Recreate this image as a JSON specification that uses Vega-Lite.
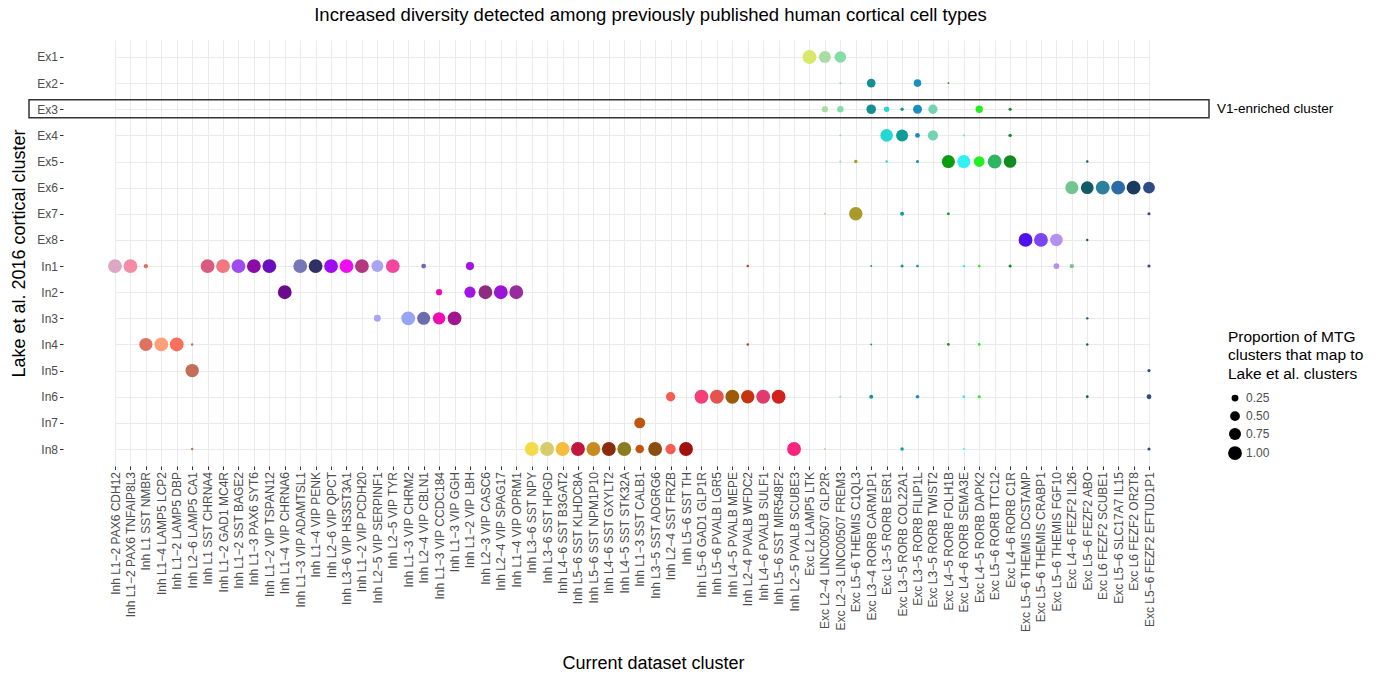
{
  "$schema": "https://vega.github.io/schema/vega-lite/v6.json",
  "width": 1137,
  "height": 426,
  "autosize": {"type": "none"},
  "padding": {"left": 63, "top": 40, "right": 176, "bottom": 208},
  "background": "white",
  "title": {"text": "Increased diversity detected among previously published human cortical cell types", "fontSize": 18.5, "fontWeight": "normal", "color": "black", "anchor": "middle", "offset": 16, "dx": 19},
  "config": {
    "font": "Liberation Sans",
    "view": {"stroke": null},
    "axis": {"domain": false, "grid": true, "gridColor": "#EBEBEB", "gridWidth": 1, "tickColor": "#333333", "tickSize": 3.5, "labelColor": "#4D4D4D", "labelFontSize": 12, "labelPadding": 2, "titleFontSize": 18, "titleFontWeight": "normal", "titleColor": "black"}
  },
  "datasets": {
    "cells": [
      {"mtg": "Inh L1−2 PAX6 CDH12", "lake": "In1", "p": 1},
      {"mtg": "Inh L1−2 PAX6 TNFAIP8L3", "lake": "In1", "p": 1},
      {"mtg": "Inh L1 SST NMBR", "lake": "In1", "p": 0.1},
      {"mtg": "Inh L1 SST NMBR", "lake": "In4", "p": 0.9},
      {"mtg": "Inh L1−4 LAMP5 LCP2", "lake": "In4", "p": 1},
      {"mtg": "Inh L1−2 LAMP5 DBP", "lake": "In4", "p": 1},
      {"mtg": "Inh L2−6 LAMP5 CA1", "lake": "In4", "p": 0.03},
      {"mtg": "Inh L2−6 LAMP5 CA1", "lake": "In5", "p": 0.94},
      {"mtg": "Inh L2−6 LAMP5 CA1", "lake": "In8", "p": 0.03},
      {"mtg": "Inh L1 SST CHRNA4", "lake": "In1", "p": 1},
      {"mtg": "Inh L1−2 GAD1 MC4R", "lake": "In1", "p": 1},
      {"mtg": "Inh L1−2 SST BAGE2", "lake": "In1", "p": 1},
      {"mtg": "Inh L1−3 PAX6 SYT6", "lake": "In1", "p": 1},
      {"mtg": "Inh L1−2 VIP TSPAN12", "lake": "In1", "p": 1},
      {"mtg": "Inh L1−4 VIP CHRNA6", "lake": "In2", "p": 1},
      {"mtg": "Inh L1−3 VIP ADAMTSL1", "lake": "In1", "p": 1},
      {"mtg": "Inh L1−4 VIP PENK", "lake": "In1", "p": 1},
      {"mtg": "Inh L2−6 VIP QPCT", "lake": "In1", "p": 1},
      {"mtg": "Inh L3−6 VIP HS3ST3A1", "lake": "In1", "p": 1},
      {"mtg": "Inh L1−2 VIP PCDH20", "lake": "In1", "p": 1},
      {"mtg": "Inh L2−5 VIP SERPINF1", "lake": "In1", "p": 0.75},
      {"mtg": "Inh L2−5 VIP SERPINF1", "lake": "In3", "p": 0.25},
      {"mtg": "Inh L2−5 VIP TYR", "lake": "In1", "p": 1},
      {"mtg": "Inh L1−3 VIP CHRM2", "lake": "In3", "p": 1},
      {"mtg": "Inh L2−4 VIP CBLN1", "lake": "In1", "p": 0.12},
      {"mtg": "Inh L2−4 VIP CBLN1", "lake": "In3", "p": 0.88},
      {"mtg": "Inh L1−3 VIP CCDC184", "lake": "In2", "p": 0.2},
      {"mtg": "Inh L1−3 VIP CCDC184", "lake": "In3", "p": 0.8},
      {"mtg": "Inh L1−3 VIP GGH", "lake": "In3", "p": 1},
      {"mtg": "Inh L1−2 VIP LBH", "lake": "In1", "p": 0.35},
      {"mtg": "Inh L1−2 VIP LBH", "lake": "In2", "p": 0.65},
      {"mtg": "Inh L2−3 VIP CASC6", "lake": "In2", "p": 1},
      {"mtg": "Inh L2−4 VIP SPAG17", "lake": "In2", "p": 1},
      {"mtg": "Inh L1−4 VIP OPRM1", "lake": "In2", "p": 1},
      {"mtg": "Inh L3−6 SST NPY", "lake": "In8", "p": 1},
      {"mtg": "Inh L3−6 SST HPGD", "lake": "In8", "p": 1},
      {"mtg": "Inh L4−6 SST B3GAT2", "lake": "In8", "p": 1},
      {"mtg": "Inh L5−6 SST KLHDC8A", "lake": "In8", "p": 1},
      {"mtg": "Inh L5−6 SST NPM1P10", "lake": "In8", "p": 1},
      {"mtg": "Inh L4−6 SST GXYLT2", "lake": "In8", "p": 1},
      {"mtg": "Inh L4−5 SST STK32A", "lake": "In8", "p": 1},
      {"mtg": "Inh L1−3 SST CALB1", "lake": "In7", "p": 0.62},
      {"mtg": "Inh L1−3 SST CALB1", "lake": "In8", "p": 0.38},
      {"mtg": "Inh L3−5 SST ADGRG6", "lake": "In8", "p": 1},
      {"mtg": "Inh L2−4 SST FRZB", "lake": "In6", "p": 0.45},
      {"mtg": "Inh L2−4 SST FRZB", "lake": "In8", "p": 0.55},
      {"mtg": "Inh L5−6 SST TH", "lake": "In8", "p": 1},
      {"mtg": "Inh L5−6 GAD1 GLP1R", "lake": "In6", "p": 1},
      {"mtg": "Inh L5−6 PVALB LGR5", "lake": "In6", "p": 1},
      {"mtg": "Inh L4−5 PVALB MEPE", "lake": "In6", "p": 1},
      {"mtg": "Inh L2−4 PVALB WFDC2", "lake": "In1", "p": 0.03},
      {"mtg": "Inh L2−4 PVALB WFDC2", "lake": "In4", "p": 0.03},
      {"mtg": "Inh L2−4 PVALB WFDC2", "lake": "In6", "p": 0.94},
      {"mtg": "Inh L4−6 PVALB SULF1", "lake": "In6", "p": 1},
      {"mtg": "Inh L5−6 SST MIR548F2", "lake": "In6", "p": 1},
      {"mtg": "Inh L2−5 PVALB SCUBE3", "lake": "In8", "p": 1},
      {"mtg": "Exc L2 LAMP5 LTK", "lake": "Ex1", "p": 1},
      {"mtg": "Exc L2−4 LINC00507 GLP2R", "lake": "Ex1", "p": 0.72},
      {"mtg": "Exc L2−4 LINC00507 GLP2R", "lake": "Ex3", "p": 0.2},
      {"mtg": "Exc L2−4 LINC00507 GLP2R", "lake": "Ex7", "p": 0.02},
      {"mtg": "Exc L2−4 LINC00507 GLP2R", "lake": "In8", "p": 0.02},
      {"mtg": "Exc L2−3 LINC00507 FREM3", "lake": "Ex1", "p": 0.7},
      {"mtg": "Exc L2−3 LINC00507 FREM3", "lake": "Ex2", "p": 0.02},
      {"mtg": "Exc L2−3 LINC00507 FREM3", "lake": "Ex3", "p": 0.22},
      {"mtg": "Exc L2−3 LINC00507 FREM3", "lake": "Ex4", "p": 0.02},
      {"mtg": "Exc L2−3 LINC00507 FREM3", "lake": "Ex5", "p": 0.02},
      {"mtg": "Exc L2−3 LINC00507 FREM3", "lake": "In6", "p": 0.02},
      {"mtg": "Exc L5−6 THEMIS C1QL3", "lake": "Ex5", "p": 0.06},
      {"mtg": "Exc L5−6 THEMIS C1QL3", "lake": "Ex7", "p": 0.94},
      {"mtg": "Exc L3−4 RORB CARM1P1", "lake": "Ex2", "p": 0.4},
      {"mtg": "Exc L3−4 RORB CARM1P1", "lake": "Ex3", "p": 0.48},
      {"mtg": "Exc L3−4 RORB CARM1P1", "lake": "In1", "p": 0.02},
      {"mtg": "Exc L3−4 RORB CARM1P1", "lake": "In4", "p": 0.02},
      {"mtg": "Exc L3−4 RORB CARM1P1", "lake": "In6", "p": 0.08},
      {"mtg": "Exc L3−5 RORB ESR1", "lake": "Ex3", "p": 0.15},
      {"mtg": "Exc L3−5 RORB ESR1", "lake": "Ex4", "p": 0.82},
      {"mtg": "Exc L3−5 RORB ESR1", "lake": "Ex5", "p": 0.03},
      {"mtg": "Exc L3−5 RORB COL22A1", "lake": "Ex3", "p": 0.06},
      {"mtg": "Exc L3−5 RORB COL22A1", "lake": "Ex4", "p": 0.75},
      {"mtg": "Exc L3−5 RORB COL22A1", "lake": "Ex7", "p": 0.08},
      {"mtg": "Exc L3−5 RORB COL22A1", "lake": "In1", "p": 0.05},
      {"mtg": "Exc L3−5 RORB COL22A1", "lake": "In8", "p": 0.06},
      {"mtg": "Exc L3−5 RORB FILIP1L", "lake": "Ex2", "p": 0.3},
      {"mtg": "Exc L3−5 RORB FILIP1L", "lake": "Ex3", "p": 0.42},
      {"mtg": "Exc L3−5 RORB FILIP1L", "lake": "Ex4", "p": 0.12},
      {"mtg": "Exc L3−5 RORB FILIP1L", "lake": "Ex5", "p": 0.05},
      {"mtg": "Exc L3−5 RORB FILIP1L", "lake": "In1", "p": 0.04},
      {"mtg": "Exc L3−5 RORB FILIP1L", "lake": "In6", "p": 0.07},
      {"mtg": "Exc L3−5 RORB TWIST2", "lake": "Ex3", "p": 0.45},
      {"mtg": "Exc L3−5 RORB TWIST2", "lake": "Ex4", "p": 0.55},
      {"mtg": "Exc L4−5 RORB FOLH1B", "lake": "Ex2", "p": 0.02},
      {"mtg": "Exc L4−5 RORB FOLH1B", "lake": "Ex5", "p": 0.9},
      {"mtg": "Exc L4−5 RORB FOLH1B", "lake": "Ex7", "p": 0.04},
      {"mtg": "Exc L4−5 RORB FOLH1B", "lake": "In4", "p": 0.04},
      {"mtg": "Exc L4−6 RORB SEMA3E", "lake": "Ex4", "p": 0.02},
      {"mtg": "Exc L4−6 RORB SEMA3E", "lake": "Ex5", "p": 0.9},
      {"mtg": "Exc L4−6 RORB SEMA3E", "lake": "In1", "p": 0.03},
      {"mtg": "Exc L4−6 RORB SEMA3E", "lake": "In6", "p": 0.04},
      {"mtg": "Exc L4−6 RORB SEMA3E", "lake": "In8", "p": 0.02},
      {"mtg": "Exc L4−5 RORB DAPK2", "lake": "Ex3", "p": 0.28},
      {"mtg": "Exc L4−5 RORB DAPK2", "lake": "Ex5", "p": 0.6},
      {"mtg": "Exc L4−5 RORB DAPK2", "lake": "In1", "p": 0.04},
      {"mtg": "Exc L4−5 RORB DAPK2", "lake": "In4", "p": 0.04},
      {"mtg": "Exc L4−5 RORB DAPK2", "lake": "In6", "p": 0.05},
      {"mtg": "Exc L5−6 RORB TTC12", "lake": "Ex5", "p": 1},
      {"mtg": "Exc L4−6 RORB C1R", "lake": "Ex3", "p": 0.05},
      {"mtg": "Exc L4−6 RORB C1R", "lake": "Ex4", "p": 0.06},
      {"mtg": "Exc L4−6 RORB C1R", "lake": "Ex5", "p": 0.83},
      {"mtg": "Exc L4−6 RORB C1R", "lake": "In1", "p": 0.05},
      {"mtg": "Exc L5−6 THEMIS DCSTAMP", "lake": "Ex8", "p": 1},
      {"mtg": "Exc L5−6 THEMIS CRABP1", "lake": "Ex8", "p": 1},
      {"mtg": "Exc L5−6 THEMIS FGF10", "lake": "Ex8", "p": 0.82},
      {"mtg": "Exc L5−6 THEMIS FGF10", "lake": "In1", "p": 0.18},
      {"mtg": "Exc L4−6 FEZF2 IL26", "lake": "Ex6", "p": 0.9},
      {"mtg": "Exc L4−6 FEZF2 IL26", "lake": "In1", "p": 0.1},
      {"mtg": "Exc L5−6 FEZF2 ABO", "lake": "Ex5", "p": 0.03},
      {"mtg": "Exc L5−6 FEZF2 ABO", "lake": "Ex6", "p": 0.85},
      {"mtg": "Exc L5−6 FEZF2 ABO", "lake": "Ex8", "p": 0.03},
      {"mtg": "Exc L5−6 FEZF2 ABO", "lake": "In3", "p": 0.03},
      {"mtg": "Exc L5−6 FEZF2 ABO", "lake": "In4", "p": 0.03},
      {"mtg": "Exc L5−6 FEZF2 ABO", "lake": "In6", "p": 0.04},
      {"mtg": "Exc L6 FEZF2 SCUBE1", "lake": "Ex6", "p": 1},
      {"mtg": "Exc L5−6 SLC17A7 IL15", "lake": "Ex6", "p": 1},
      {"mtg": "Exc L6 FEZF2 OR2T8", "lake": "Ex6", "p": 1},
      {"mtg": "Exc L5−6 FEZF2 EFTUD1P1", "lake": "Ex6", "p": 0.72},
      {"mtg": "Exc L5−6 FEZF2 EFTUD1P1", "lake": "Ex7", "p": 0.05},
      {"mtg": "Exc L5−6 FEZF2 EFTUD1P1", "lake": "In1", "p": 0.05},
      {"mtg": "Exc L5−6 FEZF2 EFTUD1P1", "lake": "In5", "p": 0.05},
      {"mtg": "Exc L5−6 FEZF2 EFTUD1P1", "lake": "In6", "p": 0.12},
      {"mtg": "Exc L5−6 FEZF2 EFTUD1P1", "lake": "In8", "p": 0.05}
    ],
    "box": [{"from": "Inh L1−2 PAX6 CDH12", "to": "Exc L5−6 FEZF2 EFTUD1P1", "row": "Ex3", "label": "V1-enriched cluster"}]
  },
  "layer": [
    {
      "data": {"name": "cells"},
      "mark": {"type": "circle", "opacity": 1},
      "encoding": {
        "x": {"field": "mtg", "type": "nominal", "title": "Current dataset cluster",
          "scale": {"type": "point", "padding": 0, "range": [52, 1086], "domain": ["Inh L1−2 PAX6 CDH12","Inh L1−2 PAX6 TNFAIP8L3","Inh L1 SST NMBR","Inh L1−4 LAMP5 LCP2","Inh L1−2 LAMP5 DBP","Inh L2−6 LAMP5 CA1","Inh L1 SST CHRNA4","Inh L1−2 GAD1 MC4R","Inh L1−2 SST BAGE2","Inh L1−3 PAX6 SYT6","Inh L1−2 VIP TSPAN12","Inh L1−4 VIP CHRNA6","Inh L1−3 VIP ADAMTSL1","Inh L1−4 VIP PENK","Inh L2−6 VIP QPCT","Inh L3−6 VIP HS3ST3A1","Inh L1−2 VIP PCDH20","Inh L2−5 VIP SERPINF1","Inh L2−5 VIP TYR","Inh L1−3 VIP CHRM2","Inh L2−4 VIP CBLN1","Inh L1−3 VIP CCDC184","Inh L1−3 VIP GGH","Inh L1−2 VIP LBH","Inh L2−3 VIP CASC6","Inh L2−4 VIP SPAG17","Inh L1−4 VIP OPRM1","Inh L3−6 SST NPY","Inh L3−6 SST HPGD","Inh L4−6 SST B3GAT2","Inh L5−6 SST KLHDC8A","Inh L5−6 SST NPM1P10","Inh L4−6 SST GXYLT2","Inh L4−5 SST STK32A","Inh L1−3 SST CALB1","Inh L3−5 SST ADGRG6","Inh L2−4 SST FRZB","Inh L5−6 SST TH","Inh L5−6 GAD1 GLP1R","Inh L5−6 PVALB LGR5","Inh L4−5 PVALB MEPE","Inh L2−4 PVALB WFDC2","Inh L4−6 PVALB SULF1","Inh L5−6 SST MIR548F2","Inh L2−5 PVALB SCUBE3","Exc L2 LAMP5 LTK","Exc L2−4 LINC00507 GLP2R","Exc L2−3 LINC00507 FREM3","Exc L5−6 THEMIS C1QL3","Exc L3−4 RORB CARM1P1","Exc L3−5 RORB ESR1","Exc L3−5 RORB COL22A1","Exc L3−5 RORB FILIP1L","Exc L3−5 RORB TWIST2","Exc L4−5 RORB FOLH1B","Exc L4−6 RORB SEMA3E","Exc L4−5 RORB DAPK2","Exc L5−6 RORB TTC12","Exc L4−6 RORB C1R","Exc L5−6 THEMIS DCSTAMP","Exc L5−6 THEMIS CRABP1","Exc L5−6 THEMIS FGF10","Exc L4−6 FEZF2 IL26","Exc L5−6 FEZF2 ABO","Exc L6 FEZF2 SCUBE1","Exc L5−6 SLC17A7 IL15","Exc L6 FEZF2 OR2T8","Exc L5−6 FEZF2 EFTUD1P1"]},
          "axis": {"labelAngle": -90, "labelOverlap": false, "labelLimit": 400, "titlePadding": 23, "titleX": 590}},
        "y": {"field": "lake", "type": "nominal", "title": "Lake et al. 2016 cortical cluster",
          "scale": {"type": "point", "padding": 0.65, "domain": ["Ex1","Ex2","Ex3","Ex4","Ex5","Ex6","Ex7","Ex8","In1","In2","In3","In4","In5","In6","In7","In8"]},
          "axis": {"titlePadding": 8}},
        "size": {"field": "p", "type": "quantitative",
          "scale": {"domain": [0, 1], "range": [0, 192], "zero": true},
          "legend": {"orient": "none", "legendX": 1165, "legendY": 290, "title": ["Proportion of MTG", "clusters that map to", "Lake et al. clusters"], "titleFontSize": 15.5, "titleFontWeight": "normal", "titleColor": "black", "titleLineHeight": 18.3, "titlePadding": 10, "labelFontSize": 12, "labelColor": "#4D4D4D", "labelOffset": 4, "values": [0.25, 0.5, 0.75, 1], "format": ".2f", "symbolType": "circle", "symbolFillColor": "black", "symbolStrokeColor": "black", "symbolStrokeWidth": 0, "symbolOpacity": 1, "rowPadding": 6}},
        "color": {"field": "mtg", "type": "nominal", "legend": null,
          "scale": {"domain": ["Inh L1−2 PAX6 CDH12","Inh L1−2 PAX6 TNFAIP8L3","Inh L1 SST NMBR","Inh L1−4 LAMP5 LCP2","Inh L1−2 LAMP5 DBP","Inh L2−6 LAMP5 CA1","Inh L1 SST CHRNA4","Inh L1−2 GAD1 MC4R","Inh L1−2 SST BAGE2","Inh L1−3 PAX6 SYT6","Inh L1−2 VIP TSPAN12","Inh L1−4 VIP CHRNA6","Inh L1−3 VIP ADAMTSL1","Inh L1−4 VIP PENK","Inh L2−6 VIP QPCT","Inh L3−6 VIP HS3ST3A1","Inh L1−2 VIP PCDH20","Inh L2−5 VIP SERPINF1","Inh L2−5 VIP TYR","Inh L1−3 VIP CHRM2","Inh L2−4 VIP CBLN1","Inh L1−3 VIP CCDC184","Inh L1−3 VIP GGH","Inh L1−2 VIP LBH","Inh L2−3 VIP CASC6","Inh L2−4 VIP SPAG17","Inh L1−4 VIP OPRM1","Inh L3−6 SST NPY","Inh L3−6 SST HPGD","Inh L4−6 SST B3GAT2","Inh L5−6 SST KLHDC8A","Inh L5−6 SST NPM1P10","Inh L4−6 SST GXYLT2","Inh L4−5 SST STK32A","Inh L1−3 SST CALB1","Inh L3−5 SST ADGRG6","Inh L2−4 SST FRZB","Inh L5−6 SST TH","Inh L5−6 GAD1 GLP1R","Inh L5−6 PVALB LGR5","Inh L4−5 PVALB MEPE","Inh L2−4 PVALB WFDC2","Inh L4−6 PVALB SULF1","Inh L5−6 SST MIR548F2","Inh L2−5 PVALB SCUBE3","Exc L2 LAMP5 LTK","Exc L2−4 LINC00507 GLP2R","Exc L2−3 LINC00507 FREM3","Exc L5−6 THEMIS C1QL3","Exc L3−4 RORB CARM1P1","Exc L3−5 RORB ESR1","Exc L3−5 RORB COL22A1","Exc L3−5 RORB FILIP1L","Exc L3−5 RORB TWIST2","Exc L4−5 RORB FOLH1B","Exc L4−6 RORB SEMA3E","Exc L4−5 RORB DAPK2","Exc L5−6 RORB TTC12","Exc L4−6 RORB C1R","Exc L5−6 THEMIS DCSTAMP","Exc L5−6 THEMIS CRABP1","Exc L5−6 THEMIS FGF10","Exc L4−6 FEZF2 IL26","Exc L5−6 FEZF2 ABO","Exc L6 FEZF2 SCUBE1","Exc L5−6 SLC17A7 IL15","Exc L6 FEZF2 OR2T8","Exc L5−6 FEZF2 EFTUD1P1"],
            "range": ["#DDA7C4","#F58BA7","#E0705F","#FCA07C","#F7705C","#C26E58","#D95B7F","#F27780","#9E4CF0","#8A0BA8","#6A0DBE","#6B0A8C","#7678B6","#2F3166","#9E0CF2","#F00CF0","#B2397F","#A9A4F2","#F2479E","#98A5F7","#6B6CAD","#F00CB5","#A3158F","#A115E3","#8E2C80","#9B16D4","#982C9C","#F7DA4A","#D6CC6C","#F6BC3C","#C3163C","#C98B20","#8A2B0E","#8C7C20","#C1540F","#8B4E11","#F65C52","#A1110F","#F33E7A","#E5534F","#9A5B0B","#C53310","#E13A6C","#D2201B","#F8247D","#D9E76B","#A8DCA2","#84DDA6","#A99A2A","#149095","#23D8D1","#0F9C96","#1B8DC2","#73D3B3","#0D9B12","#33F0F2","#22EE22","#2FB462","#128A22","#4E12EE","#7D45F2","#B291F0","#72C591","#125A66","#2B819C","#2D6BA6","#1C3A5E","#2D4B85"]}}
      }
    },
    {
      "data": {"name": "box"},
      "mark": {"type": "rect", "fill": "transparent", "stroke": "#333333", "strokeWidth": 1.5, "xOffset": -86, "x2Offset": 60, "yOffset": -9.5, "y2Offset": 8.5},
      "encoding": {
        "x": {"field": "from", "type": "nominal", "scale": {"type": "point", "padding": 0, "range": [52, 1086]}},
        "x2": {"field": "to"},
        "y": {"field": "row", "type": "nominal", "scale": {"type": "point", "padding": 0.65}},
        "y2": {"field": "row"}
      }
    },
    {
      "data": {"name": "box"},
      "mark": {"type": "text", "align": "left", "baseline": "middle", "dx": 68, "fontSize": 13.5, "color": "black"},
      "encoding": {
        "x": {"field": "to", "type": "nominal", "scale": {"type": "point", "padding": 0, "range": [52, 1086]}},
        "y": {"field": "row", "type": "nominal", "scale": {"type": "point", "padding": 0.65}},
        "text": {"field": "label"}
      }
    }
  ]
}
